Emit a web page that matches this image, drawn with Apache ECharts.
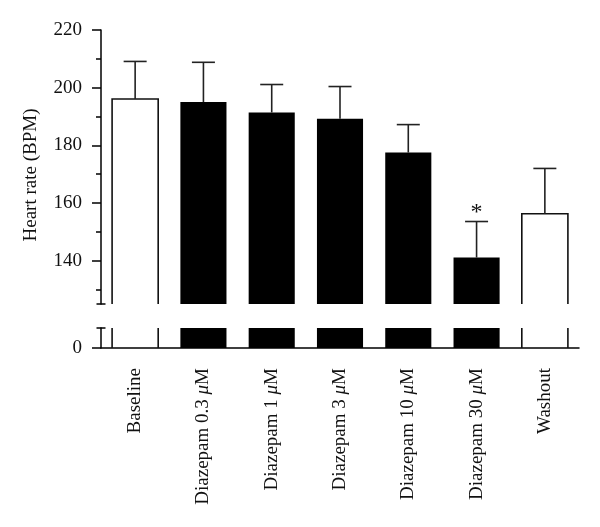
<!DOCTYPE html>
<html>
<head>
<meta charset="utf-8">
<script src="https://cdn.jsdelivr.net/npm/echarts@6/dist/echarts.min.js"></script>
<style>html,body{margin:0;padding:0;background:#fff;}#c{width:600px;height:527px;}</style>
</head>
<body>
<div id="c"></div>
<script>
const categories = ['Baseline', 'Diazepam 0.3 μM', 'Diazepam 1 μM', 'Diazepam 3 μM', 'Diazepam 10 μM', 'Diazepam 30 μM', 'Washout'];
const meanBPM = [196.1, 195.0, 191.4, 189.2, 177.5, 141.1, 156.3];
const errBPM = [13.0, 13.8, 9.7, 11.2, 9.7, 12.5, 15.7];
const barFill = ['open', 'solid', 'solid', 'solid', 'solid', 'solid', 'open'];
const marks = ['', '', '', '', '', '*', ''];
const upperTickLabels = [140, 160, 180, 200, 220];
const upperMinorTicks = [130, 150, 170, 190, 210];
const lowerTickLabels = [0];

const FONT = 'Liberation Serif';
const GRID_LEFT = 101;
const UPPER_MIN = 125, UPPER_MAX = 220, LOWER_MIN = 0, LOWER_MAX = 7;

const chart = echarts.init(document.getElementById('c'), null, {renderer: 'canvas'});

const barData = meanBPM.map((v, i) => [i, v, barFill[i] === 'solid' ? 1 : 0]);
const errData = meanBPM.map((v, i) => [i, v, errBPM[i]]);

function renderBar(params, api) {
  const i = api.value(0), v = api.value(1), solid = api.value(2);
  const top = api.coord([i, v]);
  const base = api.coord([i, 0]);
  const w = api.size([1, 0])[0] * 0.675;
  const x0 = top[0] - w / 2, x1 = top[0] + w / 2;
  if (solid) {
    return {type: 'rect', shape: {x: x0, y: top[1], width: w, height: base[1] - top[1]}, style: {fill: '#000'}};
  }
  return {type: 'polyline', shape: {points: [[x0, base[1] + 2000], [x0, top[1]], [x1, top[1]], [x1, base[1] + 2000]]},
    style: {stroke: '#111', lineWidth: 1.6, fill: null}};
}

function renderErr(params, api) {
  const i = api.value(0), v = api.value(1), e = api.value(2);
  const p0 = api.coord([i, v]);
  const p1 = api.coord([i, v + e]);
  const cw = 11.5;
  const children = [
    {type: 'line', shape: {x1: p0[0], y1: p0[1], x2: p1[0], y2: p1[1]}, style: {stroke: '#222', lineWidth: 1.6}},
    {type: 'line', shape: {x1: p1[0] - cw, y1: p1[1], x2: p1[0] + cw, y2: p1[1]}, style: {stroke: '#222', lineWidth: 1.6}}
  ];
  const m = marks[params.dataIndex];
  if (m) {
    children.push({type: 'text', style: {text: m, x: p1[0], y: p1[1] + 3, textAlign: 'center', textVerticalAlign: 'bottom',
      font: '24px "' + FONT + '"', fill: '#111'}});
  }
  return {type: 'group', children: children};
}

const option = {
  animation: false,
  backgroundColor: '#fff',
  grid: [
    {left: GRID_LEFT, right: 21, top: 30, height: 274},
    {left: GRID_LEFT, right: 21, top: 328, height: 20}
  ],
  xAxis: [
    {type: 'category', gridIndex: 0, data: categories, show: false},
    {type: 'category', gridIndex: 1, data: categories,
      axisLine: {lineStyle: {color: '#000', width: 1.5}},
      axisTick: {alignWithLabel: true, length: 8, lineStyle: {color: '#000', width: 1.5}},
      axisLabel: {rotate: 90, margin: 20, color: '#111', fontFamily: FONT, fontSize: 19, interval: 0,
        formatter: s => s.replace('μ', '{i|μ}'),
        rich: {i: {fontFamily: FONT, fontStyle: 'italic', fontSize: 19, color: '#111'}}}}
  ],
  yAxis: [
    {type: 'value', gridIndex: 0, position: 'left', min: UPPER_MIN, max: UPPER_MAX,
      name: 'Heart rate (BPM)', nameLocation: 'middle', nameGap: 60,
      nameTextStyle: {fontFamily: FONT, fontSize: 19, color: '#111', padding: [0, 16, 0, 0]},
      axisLine: {show: true, lineStyle: {color: '#000', width: 1.5}},
      axisTick: {show: true, length: 9, customValues: upperTickLabels, lineStyle: {color: '#000', width: 1.5}},
      axisLabel: {customValues: upperTickLabels, margin: 19, fontFamily: FONT, fontSize: 19, color: '#111'},
      splitLine: {show: false}},
    {type: 'value', gridIndex: 1, position: 'left', min: LOWER_MIN, max: LOWER_MAX,
      axisLine: {show: true, lineStyle: {color: '#000', width: 1.5}},
      axisTick: {show: true, length: 9, customValues: lowerTickLabels, lineStyle: {color: '#000', width: 1.5}},
      axisLabel: {customValues: lowerTickLabels, margin: 19, fontFamily: FONT, fontSize: 19, color: '#111'},
      splitLine: {show: false}},
    {type: 'value', gridIndex: 0, position: 'left', offset: 0, min: UPPER_MIN, max: UPPER_MAX,
      axisLine: {show: false},
      axisTick: {show: true, length: 5, customValues: upperMinorTicks, lineStyle: {color: '#000', width: 1.5}},
      axisLabel: {show: false},
      splitLine: {show: false}}
  ],
  series: [
    {type: 'custom', xAxisIndex: 0, yAxisIndex: 0, clip: true, data: barData, renderItem: renderBar, z: 2},
    {type: 'custom', xAxisIndex: 1, yAxisIndex: 1, clip: true, data: barData, renderItem: renderBar, z: 2},
    {type: 'custom', xAxisIndex: 0, yAxisIndex: 0, clip: false, data: errData, renderItem: renderErr, z: 3}
  ]
};
chart.setOption(option);

// axis break end caps
const yUpperEnd = chart.convertToPixel({yAxisIndex: 0}, UPPER_MIN);
const yLowerEnd = chart.convertToPixel({yAxisIndex: 1}, LOWER_MAX);
chart.setOption({
  graphic: [
    {type: 'line', shape: {x1: GRID_LEFT - 4.5, y1: yUpperEnd, x2: GRID_LEFT + 4.5, y2: yUpperEnd}, style: {stroke: '#000', lineWidth: 1.5}},
    {type: 'line', shape: {x1: GRID_LEFT - 4.5, y1: yLowerEnd, x2: GRID_LEFT + 4.5, y2: yLowerEnd}, style: {stroke: '#000', lineWidth: 1.5}}
  ]
});
</script>
</body>
</html>
